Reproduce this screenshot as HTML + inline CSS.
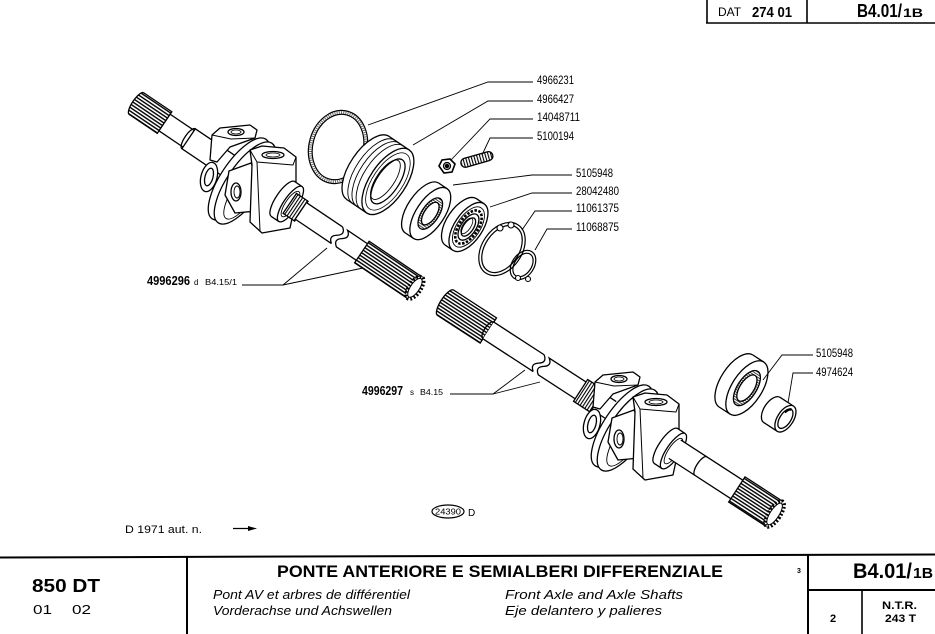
<!DOCTYPE html>
<html><head><meta charset="utf-8"><style>
html,body{margin:0;padding:0;background:#fff;}
svg{display:block;}
</style></head><body>
<svg xmlns="http://www.w3.org/2000/svg" width="935" height="634" viewBox="0 0 935 634" font-family="'Liberation Sans', Arial, sans-serif">
<defs>
<pattern id="hs" width="8" height="3" patternUnits="userSpaceOnUse"><rect width="8" height="3" fill="#fff"/><rect width="8" height="1.4" fill="#000"/></pattern>
<pattern id="vs" width="2.8" height="8" patternUnits="userSpaceOnUse"><rect width="2.8" height="8" fill="#fff"/><rect width="1.1" height="8" fill="#000"/></pattern>
<pattern id="hs2" width="4" height="2.2" patternUnits="userSpaceOnUse"><rect width="4" height="2.2" fill="#fff"/><rect width="4" height="0.9" fill="#333"/></pattern>
<g id="joint" stroke="#000" stroke-width="1.3" fill="#fff" stroke-linejoin="round">
  <g transform="translate(-36,-6) rotate(15)"><ellipse rx="8" ry="15"/><ellipse rx="4" ry="9"/></g>
  <polygon points="-33,-48 -25,-55 5,-58 12,-53 10,-45 -15,-36 -28,-21 -35,-23"/>
  <path d="M-33,-48 L-14,-44 L10,-45" fill="none" stroke-width="0.9"/>
  <ellipse cx="-9" cy="-51" rx="8" ry="3.5"/>
  <ellipse cx="-9" cy="-51" rx="5" ry="2" fill="none" stroke-width="0.8"/>
  <ellipse rx="18" ry="48" transform="translate(-6,-4) rotate(34)"/>
  <ellipse rx="18" ry="48" transform="rotate(34)"/>
  <ellipse cx="4" rx="12" ry="40" transform="rotate(34)" fill="none" stroke-width="0.9"/>
  <polygon points="-16,-12 6,-20 14,-2 12,28 -10,30 -20,12"/>
  <ellipse cx="-9" cy="9" rx="5" ry="9"/>
  <ellipse cx="-8" cy="9" rx="3" ry="6" fill="none" stroke-width="0.9"/>
  <polygon points="5,-33 17,-37 39,-35 51,-26 51,17 45,45 17,50 5,39 7,-18"/>
  <polyline points="5,-33 12,-21 48,-18 51,-26" fill="none" stroke-width="1"/>
  <path d="M12,-21 L15,48" fill="none" stroke-width="1"/>
  <ellipse cx="28" cy="-28" rx="11" ry="3.5"/>
  <ellipse cx="28" cy="-28" rx="7" ry="2" fill="none" stroke-width="0.8"/>
  <g transform="translate(38,16) rotate(34)">
    <ellipse rx="7" ry="21"/>
    <rect x="0" y="-21" width="9" height="42" stroke="none"/>
    <path d="M0,-21 H9 M0,21 H9" fill="none"/>
    <ellipse cx="9" rx="7" ry="21"/>
    <ellipse cx="9" rx="5" ry="15" fill="none" stroke-width="0.9"/>
  </g>
</g>
</defs>

<!-- ===== Left assembly ===== -->
<g transform="translate(143,108) rotate(34)" stroke="#000" stroke-width="1.3" fill="#fff">
  <path d="M26,-13 H-8 a4,13 0 0 0 0,26 H26 Z" fill="url(#hs)"/>
  <rect x="26" y="-10" width="30" height="20"/>
  <rect x="55" y="-12" width="60" height="24"/>
  <path d="M55,-12 a4,12 0 0 0 0,24" fill="none"/>
</g>
<use href="#joint" transform="translate(245,183)"/>
<g transform="translate(143,108) rotate(34)" stroke="#000" stroke-width="1.3" fill="#fff">
  <rect x="175" y="-15" width="14" height="24" fill="url(#vs)"/>
  <rect x="189" y="-13" width="43" height="20" stroke="none"/>
  <path d="M189,-13 H232 M189,7 H232 M232,-13 q7,5 0,10 q-7,5 0,10" fill="none"/>
  <rect x="238" y="-13" width="24" height="20" stroke="none"/>
  <path d="M262,-13 H238 q7,5 0,10 q-7,5 0,10 H262" fill="none"/>
  <rect x="262" y="-16" width="64" height="26" fill="url(#hs)"/>
  <ellipse cx="326" cy="-3" rx="6" ry="13" fill="#fff" stroke-width="3.5" stroke-dasharray="1.8 1.8"/>
  <ellipse cx="326" cy="-3" rx="4.5" ry="11" fill="#fff" stroke-width="1"/>
</g>

<!-- ===== Right assembly ===== -->
<g transform="translate(447,306) rotate(33)" stroke="#000" stroke-width="1.3" fill="#fff">
  <path d="M48,-17 H-3 a5,15 0 0 0 0,30 H48 Z" fill="url(#hs)"/>
  <rect x="48" y="-12" width="60" height="20" stroke="none"/>
  <path d="M48,-12 H108 M48,8 H108 M108,-12 q7,5 0,10 q-7,5 0,10" fill="none"/>
  <path d="M48,-12 a4,10 0 0 0 0,20" fill="none"/>
  <rect x="114" y="-12" width="80" height="20" stroke="none"/>
  <path d="M194,-12 H114 q7,5 0,10 q-7,5 0,10 H194" fill="none"/>
  <rect x="158" y="-15" width="20" height="26" fill="url(#vs)"/>
</g>
<use href="#joint" transform="translate(628,430)"/>
<g transform="translate(447,306) rotate(33)" stroke="#000" stroke-width="1.3" fill="#fff">
  <rect x="269" y="-15" width="74" height="22" stroke="none"/>
  <path d="M269,-15 H343 M269,7 H343" fill="none"/>
  <path d="M300,-15 a4,11 0 0 0 0,22" fill="none"/>
  <rect x="343" y="-19" width="45" height="30" fill="url(#hs)"/>
  <ellipse cx="388" cy="-4" rx="6" ry="15" fill="#fff" stroke-width="3.5" stroke-dasharray="1.8 1.8"/>
  <ellipse cx="388" cy="-4" rx="4.5" ry="12.5" fill="#fff" stroke-width="1"/>
</g>

<!-- ===== Loose parts ===== -->
<g stroke="#000" stroke-width="1.3" fill="#fff">
  <g transform="translate(338,147) rotate(15)" fill="none">
    <ellipse rx="29" ry="37" stroke-width="1.2"/>
    <ellipse rx="25.2" ry="33.2" stroke-width="1.2"/>
    <ellipse rx="27.1" ry="35.1" stroke="#666" stroke-width="2.6" stroke-dasharray="1 1.2"/>
  </g>
  <g transform="translate(368,168) rotate(34)">
    <ellipse rx="18" ry="38"/>
    <rect x="0" y="-38" width="24" height="76" stroke="none"/>
    <path d="M0,-38 H24 M0,38 H24" fill="none"/>
    <path d="M7,-38 a18,38 0 0 0 0,76 M12,-38 a18,38 0 0 0 0,76 M17,-38 a18,38 0 0 0 0,76" fill="none" stroke-width="0.9"/>
    <ellipse cx="24" rx="18" ry="38"/>
    <ellipse cx="24" rx="15" ry="33" fill="none" stroke-width="0.8"/>
    <ellipse cx="24" rx="11" ry="26"/>
    <ellipse cx="21" rx="9" ry="23" fill="none" stroke-width="0.9"/>
  </g>
  <g transform="translate(422,208) rotate(34)">
    <ellipse rx="14" ry="30"/>
    <rect x="0" y="-30" width="10" height="60" stroke="none"/>
    <path d="M0,-30 H10 M0,30 H10" fill="none"/>
    <ellipse cx="10" rx="14" ry="30"/>
    <ellipse cx="10" rx="8.5" ry="18" fill="url(#hs2)"/>
    <ellipse cx="10" rx="6" ry="13" fill="#fff"/>
  </g>
  <g transform="translate(461,222) rotate(34)">
    <ellipse rx="14" ry="28"/>
    <rect x="0" y="-28" width="9" height="56" stroke="none"/>
    <path d="M0,-28 H9 M0,28 H9" fill="none"/>
    <ellipse cx="9" rx="14" ry="28"/>
    <ellipse cx="9" rx="11.5" ry="23" fill="none" stroke-width="0.9"/>
    <ellipse cx="9" rx="9.5" ry="19" fill="none" stroke-width="2.6" stroke-dasharray="2.5 1.5"/>
    <ellipse cx="9" rx="7.5" ry="15" fill="#fff"/>
    <ellipse cx="9" rx="5" ry="10.5" fill="#fff"/>
    <ellipse cx="7" rx="4" ry="9" fill="none" stroke-width="0.8"/>
  </g>
  <g transform="translate(502,249) rotate(34)" fill="none" stroke-width="1.2">
    <ellipse rx="20" ry="29"/>
    <ellipse rx="17" ry="26"/>
  </g>
  <circle cx="500" cy="228" r="3" stroke-width="1.1"/>
  <circle cx="511" cy="225" r="3" stroke-width="1.1"/>
  <g transform="translate(523,265) rotate(34)" fill="none" stroke-width="1.2">
    <ellipse rx="11" ry="16"/>
    <ellipse rx="8.5" ry="13"/>
  </g>
  <circle cx="518" cy="278" r="2.5" stroke-width="1.1"/>
  <circle cx="528" cy="279" r="2.5" stroke-width="1.1"/>
  <polygon points="439,166 442,160 450,159 455,164 452,172 444,173" stroke-width="1.6"/>
  <circle cx="447" cy="166" r="3.5"/>
  <circle cx="447" cy="166" r="1.6" fill="#000"/>
  <g transform="translate(461,164) rotate(-16)">
    <rect x="0" y="-4.5" width="33" height="9" rx="4.5" fill="url(#vs)"/>
  </g>
  <g transform="translate(736,381) rotate(33)">
    <ellipse rx="15" ry="31"/>
    <rect x="0" y="-31" width="13" height="62" stroke="none"/>
    <path d="M0,-31 H13 M0,31 H13" fill="none"/>
    <ellipse cx="13" rx="15" ry="31"/>
    <ellipse cx="13" rx="9.5" ry="20" fill="url(#hs2)"/>
    <ellipse cx="13" rx="7" ry="15" fill="#fff"/>
  </g>
  <g transform="translate(772,410) rotate(33)">
    <ellipse rx="8" ry="15"/>
    <rect x="0" y="-15" width="16" height="30" stroke="none"/>
    <path d="M0,-15 H16 M0,15 H16" fill="none"/>
    <ellipse cx="16" rx="8" ry="15"/>
    <ellipse cx="16" rx="5.5" ry="11" fill="#fff"/>
    <path d="M16,-11 a5.5,11 0 0 0 -4,6" fill="none" stroke-width="2.5"/>
  </g>
</g>

<!-- ===== Leader lines ===== -->
<g stroke="#000" stroke-width="0.9" fill="none">
  <polyline points="533,82 488,82 368,125"/>
  <polyline points="533,101 488,101 413,145"/>
  <polyline points="533,119 490,119 451,160"/>
  <polyline points="533,138 490,138 482,155"/>
  <polyline points="572,175 532,175 453,185"/>
  <polyline points="572,193 532,193 490,207"/>
  <polyline points="572,211 535,211 522,230"/>
  <polyline points="572,229 547,229 535,250"/>
  <polyline points="813,355 782,355 763,380"/>
  <polyline points="813,373 793,373 788,403"/>
  <polyline points="242,285 283,285 327,248"/>
  <line x1="283" y1="285" x2="363" y2="268"/>
  <polyline points="450,394 493,394 525,370"/>
  <line x1="493" y1="394" x2="540" y2="382"/>
</g>

<!-- ===== Part numbers ===== -->
<g fill="#000" font-size="12">
  <text x="537" y="84" textLength="37" lengthAdjust="spacingAndGlyphs">4966231</text>
  <text x="537" y="103" textLength="37" lengthAdjust="spacingAndGlyphs">4966427</text>
  <text x="537" y="121" textLength="43" lengthAdjust="spacingAndGlyphs">14048711</text>
  <text x="537" y="140" textLength="37" lengthAdjust="spacingAndGlyphs">5100194</text>
  <text x="576" y="177" textLength="37" lengthAdjust="spacingAndGlyphs">5105948</text>
  <text x="576" y="195" textLength="43" lengthAdjust="spacingAndGlyphs">28042480</text>
  <text x="576" y="212" textLength="43" lengthAdjust="spacingAndGlyphs">11061375</text>
  <text x="576" y="231" textLength="43" lengthAdjust="spacingAndGlyphs">11068875</text>
  <text x="816" y="357" textLength="37" lengthAdjust="spacingAndGlyphs">5105948</text>
  <text x="816" y="376" textLength="37" lengthAdjust="spacingAndGlyphs">4974624</text>
  <text x="147" y="285" font-size="13" font-weight="bold" textLength="43" lengthAdjust="spacingAndGlyphs">4996296</text>
  <text x="194" y="285" font-size="8">d</text>
  <text x="205" y="285" font-size="8.5" textLength="32" lengthAdjust="spacingAndGlyphs">B4.15/1</text>
  <text x="362" y="395" font-size="13" font-weight="bold" textLength="41" lengthAdjust="spacingAndGlyphs">4996297</text>
  <text x="410" y="395" font-size="8">s</text>
  <text x="420" y="395" font-size="8.5" textLength="23" lengthAdjust="spacingAndGlyphs">B4.15</text>
</g>

<!-- ===== Stamp & note ===== -->
<ellipse cx="448" cy="511.5" rx="16" ry="6.5" fill="none" stroke="#000" stroke-width="1.2"/>
<text x="448" y="514.5" font-size="8" text-anchor="middle" textLength="26" lengthAdjust="spacingAndGlyphs">24390</text>
<text x="468" y="516" font-size="10">D</text>
<text x="125" y="533" font-size="11" textLength="77" lengthAdjust="spacingAndGlyphs">D 1971 aut. n.</text>
<line x1="233" y1="528.5" x2="250" y2="528.5" stroke="#000" stroke-width="1.3"/>
<polygon points="248,526 257,528.5 248,531" fill="#000"/>

<!-- ===== Header box ===== -->
<g stroke="#000" stroke-width="1.6" fill="none">
  <line x1="707" y1="0" x2="707" y2="23"/>
  <line x1="807" y1="0" x2="807" y2="23"/>
  <line x1="706" y1="23" x2="935" y2="23"/>
</g>
<text x="718" y="16" font-size="11.5" textLength="23" lengthAdjust="spacingAndGlyphs">DAT</text>
<text x="752" y="17" font-size="15" font-weight="bold" textLength="40" lengthAdjust="spacingAndGlyphs">274 01</text>
<text x="857" y="17" font-size="18" font-weight="bold" textLength="45" lengthAdjust="spacingAndGlyphs">B4.01/</text>
<text x="903" y="17" font-size="12" font-weight="bold" textLength="20" lengthAdjust="spacingAndGlyphs">1B</text>

<!-- ===== Title block ===== -->
<g stroke="#000" fill="none">
  <line x1="0" y1="557.5" x2="935" y2="554.5" stroke-width="2"/>
  <line x1="187" y1="557" x2="187" y2="634" stroke-width="2"/>
  <line x1="808" y1="555" x2="808" y2="634" stroke-width="2"/>
  <line x1="808" y1="590" x2="935" y2="590" stroke-width="2"/>
  <line x1="862" y1="590" x2="862" y2="634" stroke-width="1.6"/>
</g>
<text x="32" y="592" font-size="18" font-weight="bold" textLength="68" lengthAdjust="spacingAndGlyphs">850 DT</text>
<text x="33" y="614" font-size="13" textLength="19" lengthAdjust="spacingAndGlyphs">01</text>
<text x="72" y="614" font-size="13" textLength="19" lengthAdjust="spacingAndGlyphs">02</text>
<text x="277" y="577" font-size="17" font-weight="bold" textLength="446" lengthAdjust="spacingAndGlyphs">PONTE ANTERIORE E SEMIALBERI DIFFERENZIALE</text>
<g font-style="italic" font-size="12.5">
  <text x="213" y="599" textLength="197" lengthAdjust="spacingAndGlyphs">Pont AV et arbres de différentiel</text>
  <text x="213" y="615" textLength="179" lengthAdjust="spacingAndGlyphs">Vorderachse und Achswellen</text>
  <text x="505" y="599" textLength="178" lengthAdjust="spacingAndGlyphs">Front Axle and Axle Shafts</text>
  <text x="505" y="615" textLength="157" lengthAdjust="spacingAndGlyphs">Eje delantero y palieres</text>
</g>
<text x="797" y="573" font-size="7" font-weight="bold">3</text>
<text x="853" y="578" font-size="21" font-weight="bold" textLength="59" lengthAdjust="spacingAndGlyphs">B4.01/</text>
<text x="913" y="578" font-size="15" font-weight="bold" textLength="20" lengthAdjust="spacingAndGlyphs">1B</text>
<text x="830" y="622" font-size="11" font-weight="bold">2</text>
<text x="882" y="609" font-size="11" font-weight="bold" textLength="35" lengthAdjust="spacingAndGlyphs">N.T.R.</text>
<text x="885" y="622" font-size="11" font-weight="bold" textLength="31" lengthAdjust="spacingAndGlyphs">243 T</text>
</svg>
</body></html>
